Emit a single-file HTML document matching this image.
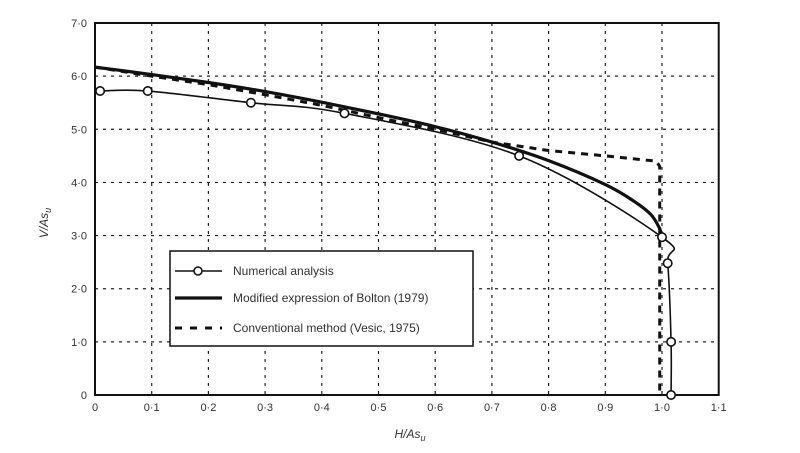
<!DOCTYPE html>
<html><head><meta charset="utf-8"><style>
body{margin:0;background:#fff;width:800px;height:448px;overflow:hidden}
svg text{font-family:"Liberation Sans",sans-serif;fill:#333}
</style></head><body>
<svg id="c" width="800" height="448"></svg>
<script>
const xTicks=[0,0.1,0.2,0.3,0.4,0.5,0.6,0.7,0.8,0.9,1.0,1.1];
const xTickLabels=["0","0·1","0·2","0·3","0·4","0·5","0·6","0·7","0·8","0·9","1·0","1·1"];
const yTicks=[0,1,2,3,4,5,6,7];
const yTickLabels=["0","1·0","2·0","3·0","4·0","5·0","6·0","7·0"];
const numX=[0.009,0.093,0.275,0.44,0.748,1.0,1.01,1.016,1.016];
const numY=[5.72,5.72,5.5,5.3,4.5,2.97,2.48,1.0,0];
const boltonX=[0,0.1,0.2,0.3,0.4,0.5,0.6,0.7,0.8,0.9,0.95,0.98,0.995,1.0];
const boltonY=[6.17,6.03,5.88,5.71,5.51,5.29,5.05,4.76,4.41,3.96,3.65,3.4,3.15,2.97];
const convX=[0,0.1,0.2,0.3,0.4,0.5,0.6,0.7,0.8,0.9,0.99,0.996,0.996];
const convY=[6.17,6.0,5.84,5.65,5.45,5.22,5.0,4.76,4.6,4.5,4.4,4.3,0];
const X0=95,X1=718.7,Y0=395,Y1=23;
const sx=v=>X0+(v/1.1)*(X1-X0), sy=v=>Y0-(v/7)*(Y0-Y1);
const svg=document.getElementById('c'),NS="http://www.w3.org/2000/svg";
function mk(t,a,p){const e=document.createElementNS(NS,t);for(const k in a)e.setAttribute(k,a[k]);(p||svg).appendChild(e);return e;}
function smooth(xs,ys){const P=xs.map((x,i)=>[sx(x),sy(ys[i])]);let d='M'+P[0][0]+','+P[0][1];
for(let i=0;i<P.length-1;i++){const p0=P[i-1]||P[i],p1=P[i],p2=P[i+1],p3=P[i+2]||p2;
const c1=[p1[0]+(p2[0]-p0[0])/6,p1[1]+(p2[1]-p0[1])/6],c2=[p2[0]-(p3[0]-p1[0])/6,p2[1]-(p3[1]-p1[1])/6];
d+=' C'+c1.join(',')+' '+c2.join(',')+' '+p2.join(',');}return d;}
yTicks.forEach((v,i)=>{if(v>0&&v<7){const g=mk('line',{x1:X0,x2:X1,y1:sy(v),y2:sy(v),stroke:'#222','stroke-width':1.2,'stroke-dasharray':'3,5'});

}
const t=mk('text',{x:X0-8,y:sy(v)+4,'text-anchor':'end','font-size':11});t.textContent=yTickLabels[i];

});
xTicks.forEach((v,i)=>{if(v>0&&v<1.1){const g=mk('line',{x1:sx(v),x2:sx(v),y1:Y1,y2:Y0,stroke:'#222','stroke-width':1.2,'stroke-dasharray':'3,5'});

}
const t=mk('text',{x:sx(v),y:Y0+16,'text-anchor':'middle','font-size':11});t.textContent=xTickLabels[i];

});
const fr=mk('rect',{x:X0,y:Y1,width:X1-X0,height:Y0-Y1,fill:'none',stroke:'#111','stroke-width':2});


function pts(xs,ys){return xs.map((x,i)=>sx(x)+','+sy(ys[i])).join(' ');}
const lc=mk('polyline',{points:pts(convX,convY),fill:'none',stroke:'#111','stroke-width':3,'stroke-dasharray':'7,6'});


const lb=mk('path',{d:smooth(boltonX,boltonY),fill:'none',stroke:'#111','stroke-width':3.2});


const ln=mk('path',{d:smooth(numX,numY),fill:'none',stroke:'#111','stroke-width':1.6});


numX.forEach((x,i)=>{const c=mk('circle',{cx:sx(x),cy:sy(numY[i]),r:4.2,fill:'#fff',stroke:'#111','stroke-width':1.6});

});
const xt=mk('text',{x:410,y:438,'text-anchor':'middle','font-size':12,'font-style':'italic'});xt.innerHTML='H/As<tspan font-size="9" dy="3">u</tspan>';


const yt=mk('text',{x:0,y:0,'text-anchor':'middle','font-size':12,'font-style':'italic',transform:'translate(48,223) rotate(-90)'});yt.innerHTML='V/As<tspan font-size="9" dy="3">u</tspan>';


const lg=mk('g',{});


mk('rect',{x:170,y:251,width:303,height:95,fill:'#fff',stroke:'#111','stroke-width':1.5},lg);
const items=[['Numerical analysis',271],['Modified expression of Bolton (1979)',298],['Conventional method (Vesic, 1975)',328]];
items.forEach((it,i)=>{const y=it[1];
if(i==0){mk('line',{x1:175,x2:222,y1:y,y2:y,stroke:'#111','stroke-width':1.6},lg);mk('circle',{cx:198,cy:y,r:4,fill:'#fff',stroke:'#111','stroke-width':1.6},lg);}
if(i==1)mk('line',{x1:175,x2:222,y1:y,y2:y,stroke:'#111','stroke-width':3.2},lg);
if(i==2)mk('line',{x1:175,x2:222,y1:y,y2:y,stroke:'#111','stroke-width':3,'stroke-dasharray':'7,8'},lg);
const t=mk('text',{x:233,y:y+4,'font-size':12},lg);t.textContent=it[0];

});
</script>
</body></html>
